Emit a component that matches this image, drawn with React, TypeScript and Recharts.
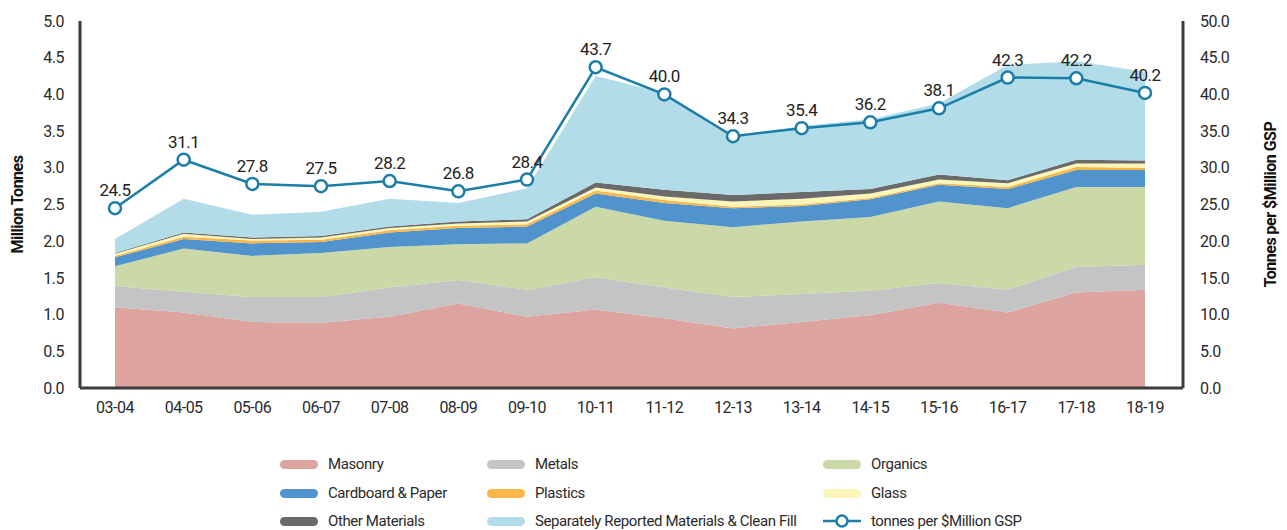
import React from 'react';
import {
  ComposedChart,
  Area,
  Line,
  XAxis,
  YAxis,
  LabelList,
  Label
} from 'recharts';

const years = ['03-04', '04-05', '05-06', '06-07', '07-08', '08-09', '09-10', '10-11', '11-12', '12-13', '13-14', '14-15', '15-16', '16-17', '17-18', '18-19'];

const masonry = [1.10, 1.03, 0.90, 0.89, 0.97, 1.15, 0.97, 1.07, 0.95, 0.81, 0.90, 0.99, 1.16, 1.03, 1.30, 1.34];
const metals = [0.29, 0.28, 0.34, 0.35, 0.40, 0.32, 0.37, 0.44, 0.42, 0.43, 0.38, 0.34, 0.27, 0.31, 0.35, 0.34];
const organics = [0.27, 0.59, 0.56, 0.60, 0.55, 0.49, 0.63, 0.96, 0.91, 0.95, 0.99, 1.00, 1.11, 1.11, 1.09, 1.06];
const cardboard = [0.12, 0.13, 0.17, 0.15, 0.20, 0.22, 0.23, 0.18, 0.24, 0.26, 0.21, 0.24, 0.23, 0.26, 0.23, 0.23];
const plastics = [0.02, 0.03, 0.04, 0.03, 0.03, 0.03, 0.03, 0.04, 0.04, 0.02, 0.02, 0.02, 0.02, 0.03, 0.04, 0.03];
const glass = [0.03, 0.04, 0.02, 0.03, 0.03, 0.03, 0.04, 0.04, 0.05, 0.07, 0.08, 0.06, 0.05, 0.05, 0.05, 0.06];
const other = [0.01, 0.02, 0.02, 0.02, 0.02, 0.03, 0.03, 0.07, 0.09, 0.09, 0.09, 0.06, 0.07, 0.04, 0.05, 0.04];
const separate = [0.19, 0.46, 0.31, 0.33, 0.38, 0.25, 0.42, 1.45, 1.32, 0.80, 0.90, 0.95, 0.97, 1.57, 1.34, 1.21];
const perGsp = [24.5, 31.1, 27.8, 27.5, 28.2, 26.8, 28.4, 43.7, 40.0, 34.3, 35.4, 36.2, 38.1, 42.3, 42.2, 40.2];

const leftTicks = [0, 0.5, 1, 1.5, 2, 2.5, 3, 3.5, 4, 4.5, 5];
const rightTicks = [0, 5, 10, 15, 20, 25, 30, 35, 40, 45, 50];

const data = years.map((y, i) => ({
  year: y,
  masonry: masonry[i],
  metals: metals[i],
  organics: organics[i],
  cardboard: cardboard[i],
  plastics: plastics[i],
  glass: glass[i],
  other: other[i],
  separate: separate[i],
  perGsp: perGsp[i]
}));

const layers = [
  { key: 'masonry', name: 'Masonry', color: '#dca39f' },
  { key: 'metals', name: 'Metals', color: '#c4c4c4' },
  { key: 'organics', name: 'Organics', color: '#cad9a7' },
  { key: 'cardboard', name: 'Cardboard & Paper', color: '#5193cd' },
  { key: 'plastics', name: 'Plastics', color: '#f9b749' },
  { key: 'glass', name: 'Glass', color: '#fbf5b8' },
  { key: 'other', name: 'Other Materials', color: '#6a6a6a' },
  { key: 'separate', name: 'Separately Reported Materials & Clean Fill', color: '#b2dde8' }
];

const LINE = '#1a7ea8';
const FONT = 'Roboto, sans-serif';
const tickStyle = { fontSize: 16, fill: '#2a2a2a', fontFamily: FONT, letterSpacing: -0.5 };
const axisLine = { stroke: '#3c3c3c', strokeWidth: 3 };
const titleStyle = { fontSize: 16, fontWeight: 700, fill: '#111', fontFamily: FONT, letterSpacing: -0.5, textAnchor: 'middle' as const };

// legend grid: icon left edges and row centre lines
const legendCols = [280, 487, 823];
const legendRows = [464, 493, 521];

function ChartLegend() {
  const items = [...layers.map(l => ({ name: l.name, color: l.color, line: false })), { name: 'tonnes per $Million GSP', color: LINE, line: true }];
  return (
    <>
      {items.map((it, i) => {
        const left = legendCols[i % 3];
        const top = legendRows[Math.floor(i / 3)];
        return (
          <div key={it.name} style={{ position: 'absolute', left, top: top - 10, height: 20, display: 'flex', alignItems: 'center', fontFamily: FONT, fontSize: 15, color: '#2a2a2a', letterSpacing: -0.4, whiteSpace: 'nowrap' }}>
            {it.line ? (
              <svg width={38} height={16} style={{ marginRight: 10 }}>
                <line x1={0} y1={8} x2={38} y2={8} stroke={LINE} strokeWidth={2.5} />
                <circle cx={19} cy={8} r={5.5} fill="#fff" stroke={LINE} strokeWidth={2.5} />
              </svg>
            ) : (
              <span style={{ display: 'inline-block', width: 38, height: 9, borderRadius: 5, background: it.color, marginRight: 10 }} />
            )}
            {it.name}
          </div>
        );
      })}
    </>
  );
}

export default function App() {
  return (
    <div style={{ position: 'absolute', left: 0, top: 0, width: 1287, height: 530, background: '#fff' }}>
      <ComposedChart width={1287} height={530} data={data} margin={{ top: 21, right: 0, bottom: 112, left: 0 }}>
        <XAxis
          dataKey="year"
          height={30}
          tick={tickStyle}
          tickLine={false}
          tickSize={6}
          tickMargin={8}
          axisLine={axisLine}
          padding={{ left: 35, right: 38 }}
          interval={0}
        />
        <YAxis
          yAxisId="left"
          width={80}
          domain={[0, 5]}
          ticks={leftTicks}
          tickFormatter={v => v.toFixed(1)}
          tick={tickStyle}
          tickLine={false}
          tickSize={8}
          tickMargin={8}
          axisLine={axisLine}
          interval={0}
        >
          <Label value="Million Tonnes" angle={-90} position="insideLeft" offset={17} style={titleStyle} />
        </YAxis>
        <YAxis
          yAxisId="right"
          orientation="right"
          width={104}
          domain={[0, 50]}
          ticks={rightTicks}
          tickFormatter={v => v.toFixed(1)}
          tick={tickStyle}
          tickLine={false}
          tickSize={8}
          tickMargin={9}
          axisLine={axisLine}
          interval={0}
        >
          <Label value="Tonnes per $Million GSP" angle={-90} position="insideRight" offset={17} style={titleStyle} />
        </YAxis>
        {layers.map(l => (
          <Area
            key={l.key}
            yAxisId="left"
            type="linear"
            dataKey={l.key}
            name={l.name}
            stackId="1"
            stroke="none"
            fill={l.color}
            fillOpacity={1}
            isAnimationActive={false}
          />
        ))}
        <Line
          yAxisId="right"
          type="linear"
          dataKey="perGsp"
          name="tonnes per $Million GSP"
          stroke={LINE}
          strokeWidth={2.5}
          dot={{ r: 6, fill: '#fff', stroke: LINE, strokeWidth: 2.5 }}
          isAnimationActive={false}
        >
          <LabelList dataKey="perGsp" position="top" offset={12} formatter={v => Number(v).toFixed(1)} style={{ fontSize: 17, fill: '#222', fontFamily: FONT, letterSpacing: -0.5 }} />
        </Line>
      </ComposedChart>
      <ChartLegend />
    </div>
  );
}
